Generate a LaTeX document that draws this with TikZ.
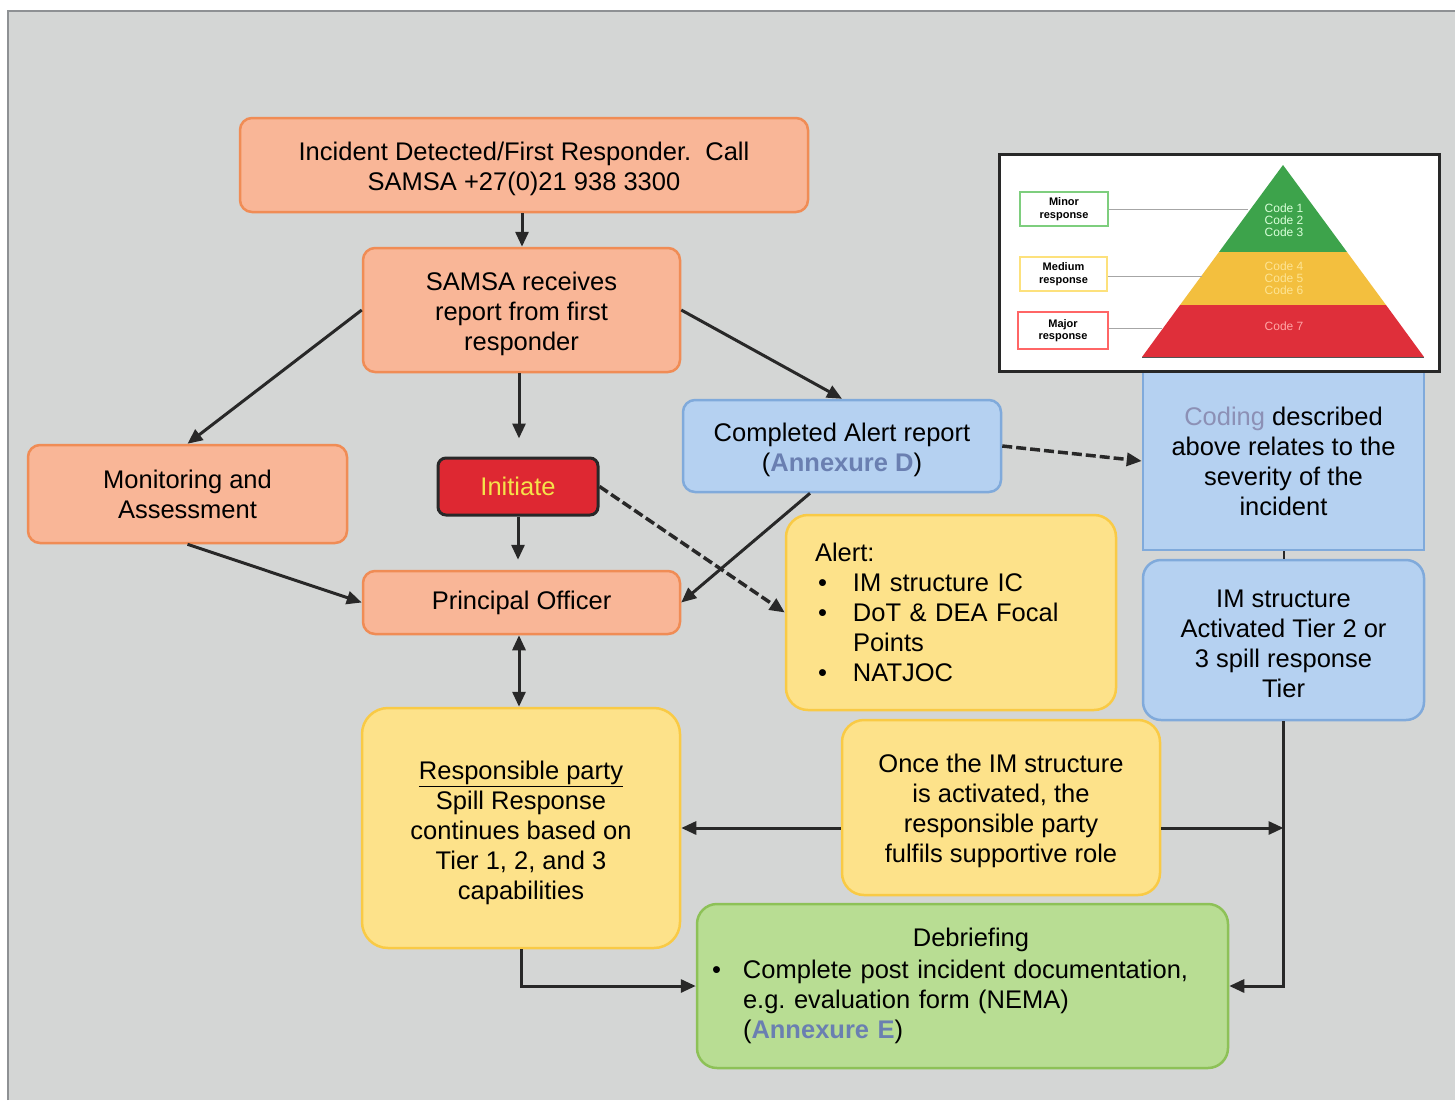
\documentclass[tikz,border=0pt]{standalone}
\usepackage{fontspec}
\setmainfont{Liberation Sans}
\usetikzlibrary{arrows.meta,calc}

\definecolor{panel}{HTML}{D4D6D5}
\definecolor{paneledge}{HTML}{8E9194}
\definecolor{orangeF}{HTML}{F9B697}
\definecolor{orangeB}{HTML}{F08C55}
\definecolor{blueF}{HTML}{B5D1F1}
\definecolor{blueB}{HTML}{80AADB}
\definecolor{yellowF}{HTML}{FDE28A}
\definecolor{yellowB}{HTML}{F9CA45}
\definecolor{greenF}{HTML}{B8DD93}
\definecolor{greenB}{HTML}{8DC157}
\definecolor{redF}{HTML}{DE2832}
\definecolor{initText}{HTML}{F5E34A}
\definecolor{annex}{HTML}{6A7FB1}
\definecolor{codingC}{HTML}{8C90B5}
\definecolor{ink}{HTML}{282828}
\definecolor{pyrG}{HTML}{3DA34B}
\definecolor{pyrY}{HTML}{F3BF3E}
\definecolor{pyrR}{HTML}{DF2F3A}

\newcommand{\mainsize}{\fontsize{25.5}{30}\selectfont}
\newcommand{\annexure}[1]{\textcolor{annex}{\bfseries #1}}
\newcommand{\bulletcol}[1]{\makebox[#1][l]{\hspace*{3pt}\textbullet}}
% a taller first line pushes centred text a little lower in its box
\newcommand{\toppad}[1][26pt]{\rule{0pt}{#1}}

\begin{document}
\begin{tikzpicture}[x=1pt,y=-1pt,
  box/.style={rounded corners=12pt, line width=2.5pt, align=center,
    inner sep=0pt, font=\mainsize, text=black},
  orangebox/.style={box, draw=orangeB, fill=orangeF},
  bluebox/.style={box, draw=blueB, fill=blueF},
  yellowbox/.style={box, draw=yellowB, fill=yellowF},
  greenbox/.style={box, draw=greenB, fill=greenF},
  tipA/.tip={Triangle[length=15pt,width=13pt]},
  conn/.style={draw=ink, line width=3pt, -tipA},
  dconn/.style={conn, line width=3.5pt, dash pattern=on 10pt off 4pt},
  tag/.style={draw, line width=2pt, fill=white, align=center, inner sep=0pt,
    font=\fontsize{11}{12.5}\selectfont\bfseries},
  codetxt/.style={font=\fontsize{12}{12}\selectfont, inner sep=0pt},
  leader/.style={draw=gray!70, line width=1pt}
]
\useasboundingbox (0,0) rectangle (1455,1100);
\fill[white] (0,0) rectangle (1455,1100);
\fill[panel] (8,11) rectangle (1455,1100);
\draw[paneledge, line width=2pt] (8,1100) -- (8,11) -- (1455,11);

% main flow boxes
\node[orangebox, minimum width=568pt, minimum height=94pt] (incident) at (524,165)
  {\toppad Incident Detected/First Responder.\ \ Call\\SAMSA +27(0)21 938 3300};
\node[orangebox, minimum width=317pt, minimum height=124pt] (samsa) at (521.5,310)
  {\toppad SAMSA receives\\report from first\\responder};
\node[orangebox, minimum width=319pt, minimum height=98pt] (monitor) at (187.5,494)
  {Monitoring and\\Assessment};
\node[box, draw=ink, line width=3pt, rounded corners=8pt, fill=redF, text=initText,
  minimum width=160pt, minimum height=57pt] (initiate) at (518,486.5) {Initiate};
\node[bluebox, minimum width=318pt, minimum height=92pt] (alertrep) at (842,446)
  {\toppad Completed Alert report\\(\annexure{Annexure D})};
\node[orangebox, minimum width=317pt, minimum height=63pt] (officer) at (521.5,602.5)
  {Principal Officer};
\node[yellowbox, rounded corners=22pt, minimum height=195pt, text width=272pt,
  inner xsep=29pt, align=left] (alert) at (951,612.5)
  {Alert:\\
   \bulletcol{38pt}IM structure IC\\
   \bulletcol{38pt}DoT \& DEA Focal\\
   \hspace*{38pt}Points\\
   \bulletcol{38pt}NATJOC};
\node[bluebox, rounded corners=0pt, minimum width=281pt, minimum height=178pt] (coding) at (1283.5,461)
  {\textcolor{codingC}{Coding} described\\above relates to the\\severity of the\\incident};
\node[bluebox, rounded corners=18pt, minimum width=281pt, minimum height=160pt] (imact) at (1283.5,640)
  {\toppad IM structure\\Activated Tier 2 or\\3 spill response\\Tier};
\node[yellowbox, rounded corners=26pt, minimum width=318pt, minimum height=240pt] (resp) at (521,828)
  {\toppad[28.5pt]\underline{Responsible party}\\Spill Response\\continues based on\\Tier 1, 2, and 3\\capabilities};
\node[yellowbox, rounded corners=22pt, minimum width=318pt, minimum height=175pt] (once) at (1001,807.5)
  {\toppad Once the IM structure\\is activated, the\\responsible party\\fulfils supportive role};
\node[greenbox, rounded corners=20pt, minimum height=164pt, text width=501pt,
  inner xsep=15pt, align=left] (debrief) at (962.5,986)
  {\makebox[501pt][c]{\hspace{17pt}Debriefing}\\[2pt]
   \makebox[31pt][l]{\textbullet}Complete post incident documentation,\\
   \hspace*{31pt}e.g.\ evaluation form (NEMA)\\
   \hspace*{31pt}(\annexure{Annexure E})};

% severity pyramid inset
\node[draw=ink, line width=3pt, fill=white, minimum width=440pt, minimum height=217pt,
  inner sep=0pt] (inset) at (1219,262.5) {};
\fill[pyrG] (1283,165) -- (1347,252) -- (1219,252) -- cycle;
\fill[pyrY] (1219,252) -- (1347,252) -- (1386,305) -- (1180,305) -- cycle;
\fill[pyrR] (1180,305) -- (1386,305) -- (1424,357) -- (1142,357) -- cycle;
\draw[ink!80, line width=1pt] (1142,357) -- (1424,357);
\node[codetxt, text=green!15, align=center] (c13) at (1284,220) {Code 1\\Code 2\\Code 3};
\node[codetxt, text=yellow!55!orange!40, align=center] (c46) at (1284,278) {Code 4\\Code 5\\Code 6};
\node[codetxt, text=red!35] (c7) at (1284,326) {Code 7};
\node[tag, draw=green!45!gray!70, minimum width=88pt, minimum height=34pt] (minor) at (1064,209) {Minor\\response};
\node[tag, draw=yellow!60!orange!50, minimum width=87pt, minimum height=34pt] (medium) at (1063.5,274) {Medium\\response};
\node[tag, draw=red!60, minimum width=90pt, minimum height=37pt] (major) at (1063,330.5) {Major\\response};
\coordinate (minorend) at (1248,209);
\coordinate (mediumend) at (1202,276);
\coordinate (majorend) at (1162,328);
\draw[leader] (minor.east) -- (minorend);
\draw[leader] (medium.east |- mediumend) -- (mediumend);
\draw[leader] (major.east |- majorend) -- (majorend);

% connectors
\draw[conn] (incident.south -| 522,0) -- (samsa.north -| 522,0);
\draw[conn] (samsa.west) -- (monitor.north);
\draw[conn] (samsa.east) -- (alertrep.north);
\draw[conn, shorten >=18pt] ($(samsa.south)+(-2.5,0)$) -- ($(initiate.north)+(1,0)$);
\draw[conn, shorten >=10pt] (initiate.south) -- (initiate.south |- officer.north);
\draw[conn] (monitor.south) -- (officer.west);
\draw[conn] ($(alertrep.south)+(-32,0)$) -- (officer.east);
\draw[dconn] (initiate.east) -- (alert.west);
\draw[dconn] (alertrep.east) -- (coding.west);
\draw[conn, tipA-tipA] (officer.south -| 519,0) -- (resp.north -| 519,0);
\draw[draw=ink, line width=2pt] (coding.south) -- (imact.north);
\draw[conn] (once.west |- resp.east) -- (resp.east);
\coordinate (join) at (imact.south |- resp.east);
\draw[conn] (once.east |- resp.east) -- (join);
\draw[conn] (imact.south) -- (imact.south |- debrief.east) -- (debrief.east);
\draw[conn] (resp.south) -- (resp.south |- debrief.west) -- (debrief.west);
\end{tikzpicture}
\end{document}
